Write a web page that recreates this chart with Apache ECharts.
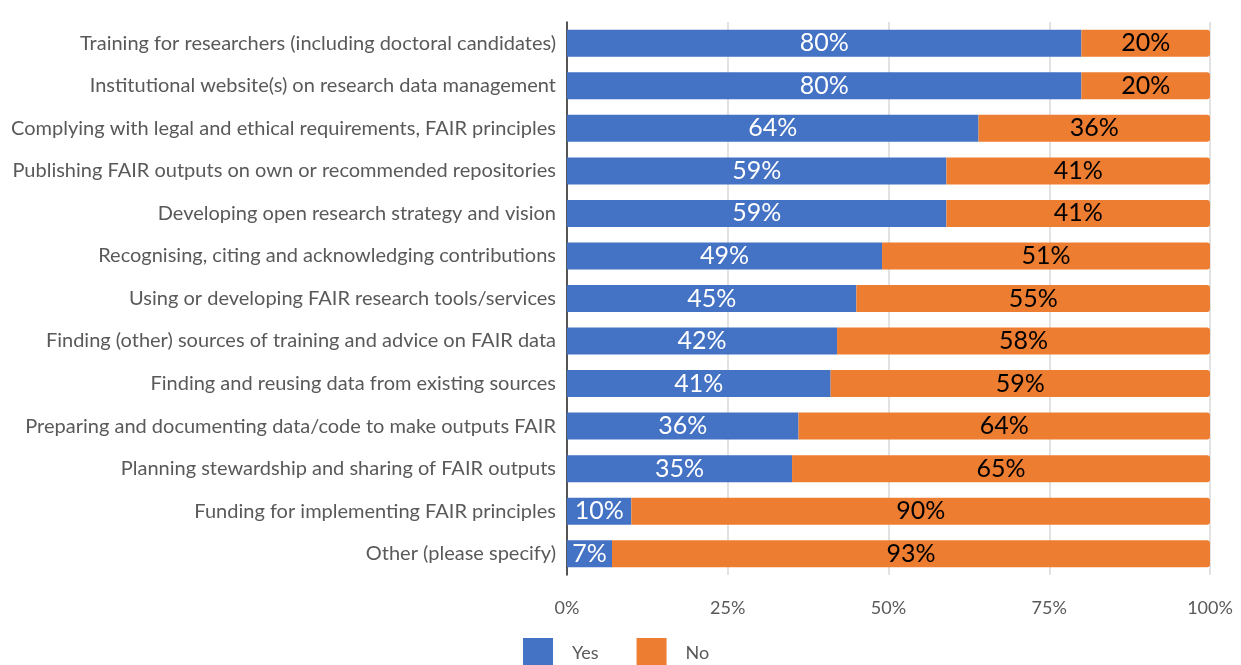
<!DOCTYPE html>
<html>
<head>
<meta charset="utf-8">
<script src="https://cdn.jsdelivr.net/npm/echarts@6/dist/echarts.min.js"></script>
<style>
  html, body { margin: 0; padding: 0; background: #fff; }
  #chart { width: 1241px; height: 665px; }
</style>
</head>
<body>
<div id="chart"></div>
<script>
var categories = [
  'Training for researchers (including doctoral candidates)',
  'Institutional website(s) on research data management',
  'Complying with legal and ethical requirements, FAIR principles',
  'Publishing FAIR outputs on own or recommended repositories',
  'Developing open research strategy and vision',
  'Recognising, citing and acknowledging contributions',
  'Using or developing FAIR research tools/services',
  'Finding (other) sources of training and advice on FAIR data',
  'Finding and reusing data from existing sources',
  'Preparing and documenting data/code to make outputs FAIR',
  'Planning stewardship and sharing of FAIR outputs',
  'Funding for implementing FAIR principles',
  'Other (please specify)'
]
var yesValues = [80, 80, 64, 59, 59, 49, 45, 42, 41, 36, 35, 10, 7]
var noValues = [20, 20, 36, 41, 41, 51, 55, 58, 59, 64, 65, 90, 93]
var xTicks = [0, 25, 50, 75, 100]

var FONT = 'Lato'
var chart = echarts.init(document.getElementById('chart'))
chart.setOption({
  animation: false,
  textStyle: { fontFamily: FONT },
  grid: {
    left: 567,
    right: 31,
    top: 22,
    bottom: 90,
    containLabel: false,
    outerBoundsMode: 'none'
  },
  legend: {
    bottom: -8,
    left: 518,
    itemWidth: 30,
    itemHeight: 30,
    itemGap: 38,
    icon: 'rect',
    textStyle: { fontSize: 18, color: '#595959', fontFamily: FONT, padding: [0, 0, 0, 14] },
    data: ['Yes', 'No']
  },
  xAxis: {
    type: 'value',
    min: 0,
    max: 100,
    interval: 25,
    axisLine: { show: false },
    axisTick: { show: false },
    axisLabel: {
      fontSize: 18,
      color: '#595959',
      margin: 24,
      formatter: function (v) { return xTicks.indexOf(v) >= 0 ? v + '%' : '' }
    },
    splitLine: { lineStyle: { color: '#d9d9d9', width: 1.5 } }
  },
  yAxis: {
    type: 'category',
    inverse: true,
    data: categories,
    axisLine: { show: true, lineStyle: { color: '#262626', width: 1.5 } },
    axisTick: { show: false },
    axisLabel: { fontSize: 20, color: '#595959', margin: 11 }
  },
  series: [
    {
      name: 'Yes',
      type: 'bar',
      stack: 'total',
      barWidth: 27,
      data: yesValues,
      itemStyle: { color: '#4472c4' },
      label: {
        show: true,
        position: 'inside',
        formatter: '{c}%',
        fontSize: 25,
        color: '#ffffff',
        textBorderColor: '#4472c4',
        textBorderWidth: 2
      }
    },
    {
      name: 'No',
      type: 'bar',
      stack: 'total',
      barWidth: 27,
      data: noValues,
      itemStyle: { color: '#ed7d31', borderRadius: [0, 3, 3, 0] },
      label: {
        show: true,
        position: 'inside',
        formatter: '{c}%',
        fontSize: 25,
        color: '#000000',
        textBorderColor: '#ed7d31',
        textBorderWidth: 2
      }
    }
  ]
})
</script>
</body>
</html>
